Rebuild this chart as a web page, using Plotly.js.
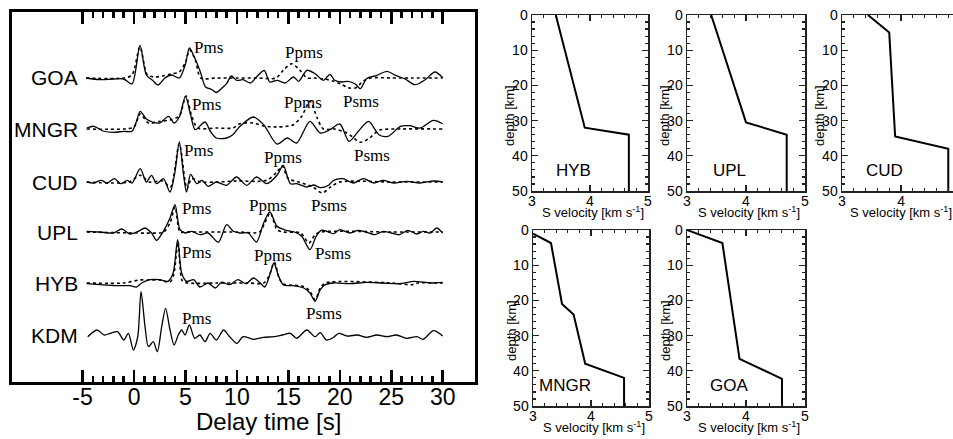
<!DOCTYPE html>
<html>
<head>
<meta charset="utf-8">
<script src="https://cdn.plot.ly/plotly-3.0.1.min.js"></script>
<style>html,body{margin:0;padding:0;background:#fff;}#chart{width:953px;height:439px;}</style>
</head>
<body>
<div id="chart"></div>
<script>
// ---------- Receiver functions (delay time [s], amplitude) ----------
const stations = ["GOA", "MNGR", "CUD", "UPL", "HYB", "KDM"];
const offsets  = [304, 253, 200, 150, 99, 47];
const delayTicks = [-5, 0, 5, 10, 15, 20, 25, 30];
const delayTickText = ["-5", "0", "5", "10", "15", "20", "25", "30"];

const t_GOA_obs = [-4.66,-3.3,-2.0,-1.0,-0.2,0.58,1.2,1.8,2.35,3.0,3.65,4.4,5.0,5.38,5.95,6.45,6.95,7.55,8.0,8.55,9.0,9.45,9.98,10.6,11.3,11.9,12.65,13.2,13.9,14.7,15.5,16.0,16.8,17.6,18.4,19.05,19.5,20.2,20.8,21.5,22.0,22.6,23.6,24.6,25.4,26.3,27.3,28.3,29.25,30.0];
const a_GOA_obs = [0,-1.7,-1,-1,-6,32.7,3,-2.3,-7,0,3,0,14,30,19,6,-9,-11.5,-14.5,-10,-5.7,2,-2.3,-1.7,-5,1,7.5,-4,-2.3,-5,1,-3.3,7.7,4.3,-2.3,3.7,-2.3,-4,-3.3,-6,-10.7,-0.7,2.7,6.7,2.7,-0.7,-6.7,-1.7,6,0.3];
const t_GOA_syn = [-4.66,-1.0,-0.2,0.58,1.3,2.0,2.8,3.6,4.4,5.0,5.4,5.95,6.5,8,10,12,13.8,14.5,15.3,16.1,16.8,17.5,18.5,19.3,20.1,20.8,21.5,22.3,23.0,25,27,30];
const a_GOA_syn = [0,0,3,31,3,1,2,4,6,16,28,18,0,0,0,0,0,7.7,14.3,8,0,0,-1,-3,-6,-9.7,-10,-3,0,0,0,0];

const t_MNGR_obs = [-4.6,-3.9,-3.0,-2.0,-1.0,-0.2,0.25,0.6,1.2,1.8,2.5,3.35,3.9,4.4,5.0,5.5,5.95,6.9,7.4,8.0,9.0,9.6,10.3,11.6,12.6,13.9,14.9,15.8,17.1,18.1,19.05,20.0,20.9,21.8,22.8,23.8,24.7,25.9,26.8,27.8,29.1,30.0];
const a_MNGR_obs = [1,2.7,-2,-3.3,-2.3,-2.3,8,17.7,10,7,6,12.7,6,12,32.7,14,-0.7,7,-2,-9,-9,-5.7,2.7,12,4.3,-15,-9,-14,7.7,-4,-0.7,5,-12.3,-2.3,7.7,-5.7,-7.3,2.7,3.3,1,8.7,5.3];
const t_MNGR_syn = [-4.6,-1.0,0.0,0.6,1.4,2.5,3.5,4.4,5.05,5.6,6.2,8,9.6,10.3,11.6,12.6,13.9,15.0,15.5,16.3,17.1,17.8,18.4,19.5,20.7,22.0,22.9,23.8,26,30];
const a_MNGR_syn = [0,0,2,15,6,7.7,9,13,33,13,1,1,1,5.3,6,3,2,3,4.3,12.7,27.7,11,0,0,-4,-13.3,-9,-1.3,0,0];

const t_CUD_obs = [-4.6,-3.9,-3.2,-2.6,-1.9,-1.3,-0.65,-0.2,0.6,1.2,1.7,2.2,2.85,3.5,3.95,4.4,4.8,5.1,5.5,6.1,6.6,7.2,8.0,9.0,9.96,10.95,11.9,12.9,13.9,14.5,15.2,15.8,16.8,17.5,18.1,18.9,19.4,20.3,21.3,22.3,23.3,24.2,25.2,26.5,27.8,29.1,30.0];
const a_CUD_obs = [0,-1,1.7,-1,3.3,-1.7,1.7,-1,13.3,0,6.7,-1.7,3.3,-10,8.3,40,8.3,-10,7.7,-1.7,1.7,-4.3,0,-3.3,5,-3.3,5,-1.7,6.7,16.7,-1.7,-1.7,-5,-3,-5.7,-3.3,1.7,3.3,-1,3.3,-1,1.7,-1,0.7,-1,1,0];
const t_CUD_syn = [-4.6,-0.5,0.6,1.5,2.8,3.55,4.4,5.15,5.6,6.5,8,10,12.9,13.9,14.4,15.0,16,17.4,18.3,19.1,20,25,30];
const a_CUD_syn = [0,0,6.7,0,1,-5,38,-6.7,3.3,0,0,1,1.7,10,16,3.3,0,-5,-11,-5,0,0,0];

const t_UPL_obs = [-4.6,-3.3,-2.0,-1.2,-0.4,0.42,1.07,1.7,2.2,2.85,3.5,3.98,4.47,4.96,5.6,6.4,7.2,8.2,9.0,9.65,10.3,11.1,11.9,12.6,13.2,13.9,14.8,15.6,16.3,17.1,17.7,18.2,18.9,19.4,20.0,21.0,21.8,22.6,23.4,24.2,25.0,25.8,26.6,27.5,28.1,28.8,29.4,30.0];
const a_UPL_obs = [0.7,0,-1,3,-2,0.7,4,-1,-8.3,0.7,14,27.3,2.3,-1,0.7,-2.7,-1,-10.3,7.3,0.7,-1,-1,-10,9,20,5.7,1.7,0,-4.3,-17.7,-4.3,1.7,0,-1.7,2.3,-1,1.7,-0.3,-2.7,0.7,-1,-2.7,1.7,-2,0.7,-1,4,-1];
const t_UPL_syn = [-4.6,2.5,2.85,3.5,3.98,4.47,5.0,10,12.2,12.7,13.25,13.9,14.5,16.2,17.0,17.6,18.2,25,30];
const a_UPL_syn = [0,-1,-0.3,9,25,0,0,0,0,9,19,2.3,0,-1,-11,-2.7,0,0,0];

const t_HYB_obs = [-4.6,-3.3,-1.8,-0.4,0.25,0.75,1.55,2.5,3.3,3.8,4.24,4.63,5.1,5.8,6.4,7.2,7.9,8.5,9.3,10.1,10.9,11.6,12.2,12.7,13.2,13.6,14.0,14.5,15.5,16.5,17.1,17.6,18.1,18.6,19.4,21.0,22.6,24.2,25.8,27.2,28.8,30.0];
const a_HYB_obs = [-0.7,-1.7,-2.7,-2.7,-4,0,3.3,3.3,1.7,10,43.3,10,1.7,3.3,-4,0,-5,0.7,-1.7,3.3,-0.7,5,0.7,-4,8.3,20,8.3,-1.7,-2.7,-5,-10,-18.3,-6.7,-1.7,0,-0.7,0.7,0,-0.7,1.7,0,0.7];
const t_HYB_syn = [-4.6,-1.0,0.5,1.5,2.5,3.5,3.85,4.28,4.7,5.2,8,11,12.6,13.1,13.65,14.1,14.5,16.3,17.0,17.6,18.1,18.6,25,27,27.6,30];
const a_HYB_syn = [0,0,3,3,3,1,8,41,2,0,0,0,0,6.7,20.7,5,-1,-3,-7,-16.7,-5,0,0,-1.7,0,0];

const t_KDM_obs = [-4.5,-3.6,-2.9,-2.3,-1.6,-1.0,-0.55,-0.06,0.36,0.68,1.07,1.4,1.87,2.26,2.69,3.07,3.5,3.9,4.3,4.63,4.96,5.38,5.9,6.4,6.9,7.4,8.0,8.7,9.3,10.0,10.6,11.6,12.6,13.6,14.4,15.2,15.8,16.8,17.6,18.1,18.7,19.4,19.9,20.7,21.7,22.6,23.6,24.6,25.5,26.5,27.5,28.1,29.1,30.0];
const a_KDM_obs = [-1.7,5,0,1.7,3.3,-5,1.7,-15,-1.7,43.3,8.3,-11.7,-6.7,-16.7,8.3,26.7,5,-10,0,5,0,10,-3.3,0,-6.7,1.7,-5,5,-1.7,-8.3,-1.7,-4.3,-2.3,-1.7,0,1.7,-3.3,5,-1.7,2.3,-5,-2.3,1.7,-1,0,-2.3,0,-1.7,0,-3.3,-1.7,-4.3,4.3,-1];

const phaseLabels = [
  {st:"GOA", text:"Pms", t:7.19, a:30}, {st:"GOA", text:"Ppms", t:16.52, a:25},
  {st:"MNGR", text:"Pms", t:7.09, a:24}, {st:"MNGR", text:"Ppms", t:16.42, a:26}, {st:"MNGR", text:"Psms", t:22.06, a:27},
  {st:"CUD", text:"Pms", t:6.22, a:32}, {st:"CUD", text:"Ppms", t:14.48, a:25}, {st:"CUD", text:"Psms", t:23.13, a:27},
  {st:"UPL", text:"Pms", t:6.12, a:24}, {st:"UPL", text:"Ppms", t:13.02, a:27}, {st:"UPL", text:"Psms", t:18.95, a:27},
  {st:"HYB", text:"Pms", t:6.12, a:31}, {st:"HYB", text:"Ppms", t:13.51, a:28}, {st:"HYB", text:"Psms", t:19.34, a:30},
  {st:"HYB", text:"Psms", t:18.46, a:-30},
  {st:"KDM", text:"Pms", t:6.12, a:17}
];

// ---------- S-velocity profiles (km/s, depth km) ----------
const vel_HYB  = [3.41, 3.91, 4.67, 4.67];        const dep_HYB  = [0, 32, 34, 50];
const vel_UPL  = [3.41, 4.0, 4.69, 4.69];         const dep_UPL  = [0, 30.5, 34, 50];
const vel_CUD  = [3.44, 3.80, 3.90, 4.80, 4.80];  const dep_CUD  = [0, 5, 34.5, 38, 50];
const vel_MNGR = [3.0, 3.31, 3.50, 3.70, 3.90, 4.57, 4.57]; const dep_MNGR = [1, 3.7, 21, 24, 38, 42, 50];
const vel_GOA  = [3.0, 3.6, 3.89, 4.61, 4.61];    const dep_GOA  = [0, 3.7, 36.6, 42.3, 50];

const rfObs = {GOA:[t_GOA_obs,a_GOA_obs], MNGR:[t_MNGR_obs,a_MNGR_obs], CUD:[t_CUD_obs,a_CUD_obs], UPL:[t_UPL_obs,a_UPL_obs], HYB:[t_HYB_obs,a_HYB_obs], KDM:[t_KDM_obs,a_KDM_obs]};
const rfSyn = {GOA:[t_GOA_syn,a_GOA_syn], MNGR:[t_MNGR_syn,a_MNGR_syn], CUD:[t_CUD_syn,a_CUD_syn], UPL:[t_UPL_syn,a_UPL_syn], HYB:[t_HYB_syn,a_HYB_syn]};

const SANS = "Liberation Sans, Arial, Helvetica, sans-serif";
const SERIF = "Liberation Serif, Times New Roman, serif";

const traces = [];
const annotations = [];
stations.forEach((s, i) => {
  const off = offsets[i];
  if (rfSyn[s]) {
    traces.push({x: rfSyn[s][0], y: rfSyn[s][1].map(v => v + off), type:"scatter", mode:"lines",
      line:{color:"#000", width:1.6, dash:"dot", shape:"spline", smoothing:0.8}, xaxis:"x", yaxis:"y", hoverinfo:"skip"});
  }
  traces.push({x: rfObs[s][0], y: rfObs[s][1].map(v => v + off), type:"scatter", mode:"lines",
    line:{color:"#000", width:1.3, shape:"spline", smoothing:0.8}, xaxis:"x", yaxis:"y", hoverinfo:"skip"});
  annotations.push({x:-5.25, y:off, xref:"x", yref:"y", text:s, showarrow:false, xanchor:"right", yanchor:"middle",
    font:{family:SANS, size:21, color:"#000"}});
});
phaseLabels.forEach(p => {
  const off = offsets[stations.indexOf(p.st)];
  annotations.push({x:p.t, y:off + p.a, xref:"x", yref:"y", text:p.text, showarrow:false, xanchor:"center", yanchor:"middle",
    font:{family:SERIF, size:17, color:"#000"}});
});

// profile panels
const panels = [
  {name:"HYB",  v:vel_HYB,  d:dep_HYB,  ax:2, xd:[532,648], yd:[15,191],  xr:[3,5]},
  {name:"UPL",  v:vel_UPL,  d:dep_UPL,  ax:3, xd:[687,805], yd:[15,191],  xr:[3,5]},
  {name:"CUD",  v:vel_CUD,  d:dep_CUD,  ax:4, xd:[842,953], yd:[15,191],  xr:[3,4.88]},
  {name:"MNGR", v:vel_MNGR, d:dep_MNGR, ax:5, xd:[533,649], yd:[230,406], xr:[3,5]},
  {name:"GOA",  v:vel_GOA,  d:dep_GOA,  ax:6, xd:[687,805], yd:[230,406], xr:[3,5]}
];
const W = 953, H = 439;

const layout = {
  width:W, height:H, margin:{l:0,r:0,t:0,b:0}, paper_bgcolor:"#fff", plot_bgcolor:"rgba(0,0,0,0)",
  showlegend:false, hovermode:false,
  font:{family:SANS, color:"#000"},
  xaxis:{domain:[12/W, 475/W], range:[-11.86, 33.14], tickmode:"array", tickvals:delayTicks, ticktext:delayTickText,
    ticks:"inside", ticklen:12, tickwidth:2.5, tickcolor:"#000", showline:true, linewidth:3, linecolor:"#000",
    mirror:"allticks", showgrid:false, zeroline:false, tickfont:{family:SANS, size:23, color:"#000"},
    ticklabelstandoff:-8,
    minor:{tickmode:"array", tickvals:Array.from({length:36}, (_, k) => k - 5), ticks:"inside", ticklen:6, tickwidth:2.5, tickcolor:"#000", showgrid:false},
    anchor:"y", fixedrange:true},
  yaxis:{domain:[1-382/H, 1-12/H], range:[0, 370], showline:true, linewidth:3, linecolor:"#000", mirror:true,
    ticks:"", showticklabels:false, showgrid:false, zeroline:false, anchor:"x", fixedrange:true},
  annotations: annotations
};
annotations.push({x:268/W, y:1-421/H, xref:"paper", yref:"paper", text:"Delay time [s]", showarrow:false,
  xanchor:"center", yanchor:"middle", font:{family:SANS, size:24, color:"#000"}});

panels.forEach(p => {
  const xa = "xaxis" + p.ax, ya = "yaxis" + p.ax;
  traces.push({x:p.v, y:p.d, type:"scatter", mode:"lines", line:{color:"#000", width:2}, xaxis:"x"+p.ax, yaxis:"y"+p.ax, hoverinfo:"skip"});
  layout[xa] = {domain:[p.xd[0]/W, p.xd[1]/W], range:p.xr, anchor:"y"+p.ax, tickmode:"array", tickvals:[3,4,5],
    ticks:"inside", ticklen:6, tickwidth:1.3, tickcolor:"#222", showline:true, linewidth:1.5, linecolor:"#222",
    mirror:"allticks", showgrid:false, zeroline:false, tickfont:{family:SANS, size:14, color:"#000"},
    ticklabelstandoff:-3,
    minor:{dtick:0.2, tick0:3, ticks:"inside", ticklen:3, tickwidth:1.2, tickcolor:"#222", showgrid:false}, fixedrange:true};
  layout[ya] = {domain:[1-p.yd[1]/H, 1-p.yd[0]/H], range:[50, 0], anchor:"x"+p.ax, tickmode:"array", tickvals:[0,10,20,30,40,50],
    ticks:"inside", ticklen:6, tickwidth:1.3, tickcolor:"#222", showline:true, linewidth:1.5, linecolor:"#222",
    mirror:(p.name === "CUD" ? false : "allticks"), showgrid:false, zeroline:false, tickfont:{family:SANS, size:14, color:"#000"},
    minor:{dtick:2, tick0:0, ticks:"inside", ticklen:3, tickwidth:1.2, tickcolor:"#222", showgrid:false}, fixedrange:true};
  const cx = (p.name === "CUD") ? 901 : (p.xd[0] + p.xd[1]) / 2 + 3;
  annotations.push({x:cx/W, y:1-(p.yd[1]+21)/H, xref:"paper", yref:"paper", text:"S velocity [km s<sup>-1</sup>]",
    showarrow:false, xanchor:"center", yanchor:"middle", font:{family:SANS, size:13, color:"#000"}});
  annotations.push({x:(p.xd[0]-22)/W, y:1-((p.yd[0]+p.yd[1])/2 + 13)/H, xref:"paper", yref:"paper", text:"depth [km]",
    textangle:-90, showarrow:false, xanchor:"center", yanchor:"middle", font:{family:SANS, size:13, color:"#000"}});
  annotations.push({x:(p.name==="MNGR"?3.55:3.72), y:44.3, xref:"x"+p.ax, yref:"y"+p.ax, text:p.name, showarrow:false,
    xanchor:"center", yanchor:"middle", font:{family:SANS, size:17, color:"#000"}});
});

Plotly.newPlot("chart", traces, layout, {staticPlot:true, displayModeBar:false});
</script>
</body>
</html>
